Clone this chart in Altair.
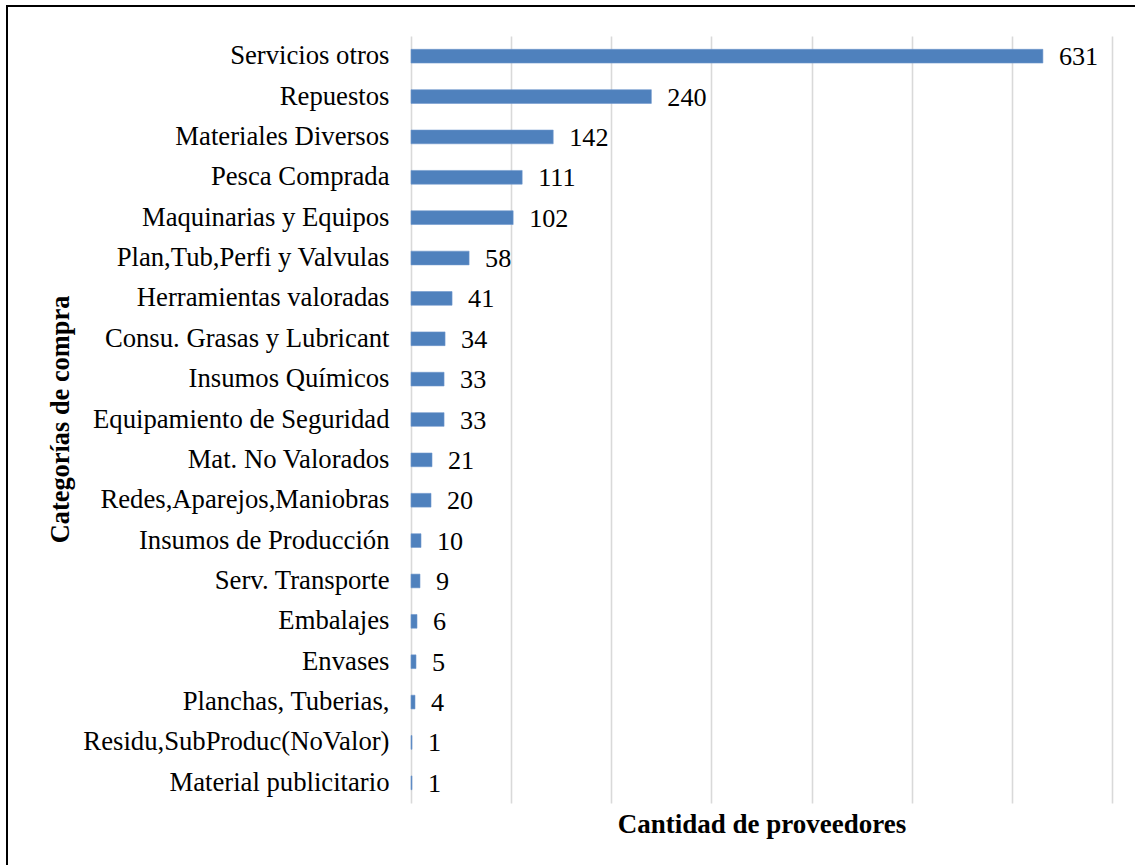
import altair as alt
import pandas as pd

categories = [
    "Servicios otros", "Repuestos", "Materiales Diversos", "Pesca Comprada",
    "Maquinarias y Equipos", "Plan,Tub,Perfi y Valvulas", "Herramientas valoradas",
    "Consu. Grasas y Lubricant", "Insumos Químicos", "Equipamiento de Seguridad",
    "Mat. No Valorados", "Redes,Aparejos,Maniobras", "Insumos de Producción",
    "Serv. Transporte", "Embalajes", "Envases", "Planchas, Tuberias,",
    "Residu,SubProduc(NoValor)", "Material publicitario",
]
values = [631, 240, 142, 111, 102, 58, 41, 34, 33, 33, 21, 20, 10, 9, 6, 5, 4, 1, 1]
x_ticks = [0, 100, 200, 300, 400, 500, 600, 700]

df = pd.DataFrame({"cat": categories, "val": values})
FONT = "Times New Roman, Liberation Serif, serif"

base = alt.Chart(df)

bars = base.mark_bar(color="#4F81BD", stroke="#6F97CC", strokeWidth=0.6).encode(
    y=alt.Y("cat:N", sort=categories,
            scale=alt.Scale(paddingInner=0.66, paddingOuter=0.33),
            axis=alt.Axis(title="Categorías de compra", labelFont=FONT, labelFontSize=26.7,
                          labelColor="black", labelPadding=22, ticks=False, domain=False,
                          grid=False, titleFont=FONT, titleFontSize=26.4, titleFontWeight="bold",
                          titleColor="black", titleX=-351, titleY=383, titleAngle=270,
                          titleAlign="center", titleBaseline="middle", labelLimit=400)),
    x=alt.X("val:Q", scale=alt.Scale(domain=[0, 700], nice=False),
            axis=alt.Axis(title="Cantidad de proveedores", values=x_ticks, labels=False,
                          ticks=False, domain=False, grid=True, gridColor="#D9D9D9",
                          gridWidth=1.6, titleFont=FONT, titleFontSize=27,
                          titleFontWeight="bold", titleColor="black", titlePadding=8)),
)

text = base.mark_text(align="left", baseline="middle", dx=16, dy=1, font=FONT,
                      fontSize=26.2, color="black").encode(
    y=alt.Y("cat:N", sort=categories),
    x="val:Q",
    text="val:Q",
)

frame_data = alt.Data(values=[{"a": 1}])
frame_left = alt.Chart(frame_data).mark_rule(color="black", strokeWidth=2).encode(
    x=alt.value(-404), y=alt.value(-30), y2=alt.value(900))
frame_top = alt.Chart(frame_data).mark_rule(color="black", strokeWidth=2).encode(
    y=alt.value(-30), x=alt.value(-405), x2=alt.value(800))

chart = alt.layer(bars, text, frame_left, frame_top).properties(
    width=701, height=767,
    autosize=alt.AutoSizeParams(type="none"),
    padding={"left": 411, "top": 36, "right": 23, "bottom": 62},
    background="white",
).configure_view(stroke=None)

chart.save("out.html", embed_options={"renderer": "svg", "actions": False})
